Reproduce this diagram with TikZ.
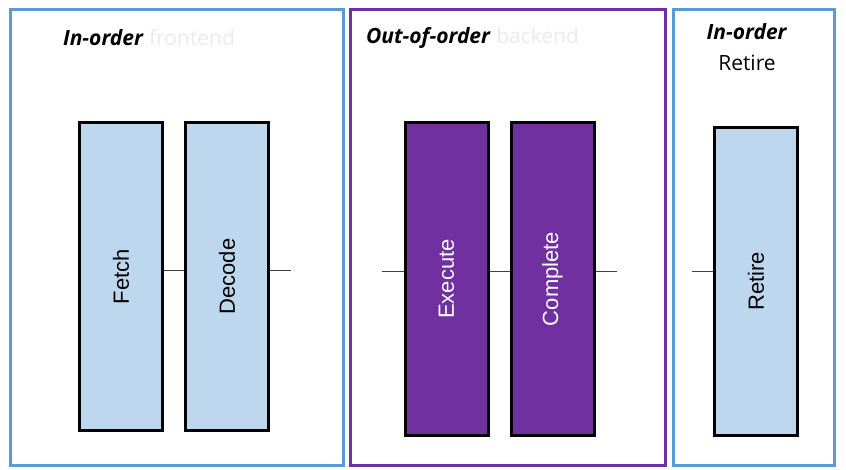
\documentclass[tikz,border=0pt]{standalone}
\usepackage{fontspec}
\setmainfont{Open Sans}
\newfontfamily\stagefont{Liberation Sans}
\definecolor{FrontClr}{HTML}{5B9BD5}
\definecolor{BackClr}{HTML}{7030A0}
\definecolor{StageClr}{HTML}{BDD7EE}
\definecolor{FaintClr}{HTML}{EBEBEB}
\definecolor{WireClr}{HTML}{404040}

\begin{document}
\begin{tikzpicture}[x=1pt,y=-1pt,
  part/.style={draw,line width=3pt,inner sep=0pt},
  stage/.style={draw=black,line width=3pt,inner sep=0pt,minimum width=83pt},
  stagetext/.style={rotate=90,font=\stagefont\fontsize{22}{24}\selectfont},
  wire/.style={draw=WireClr,line width=1pt},
  title/.style={font=\fontsize{21}{24}\selectfont,inner sep=0pt}]
\useasboundingbox (0,0) rectangle (846,470);

\node[part,draw=FrontClr,minimum width=333pt,minimum height=455pt] (front) at (176.5,237.5) {};
\node[part,draw=BackClr,minimum width=315pt,minimum height=455pt] (back) at (507.5,237.5) {};
\node[part,draw=FrontClr,minimum width=161pt,minimum height=455pt] (ret) at (753.5,237.5) {};

\node[title] (tfront) at (149,38) {\textbf{\textit{In-order}} \textcolor{FaintClr}{frontend}};
\node[title] (tback) at (472.5,38) {\textbf{\textit{Out-of-order}} \textcolor{FaintClr}{backend}};
\node[title] (tret) at (747,32) {\textbf{\textit{In-order}}};
\node[title] (tret2) at (747,63) {Retire};

\node[stage,fill=StageClr,minimum height=308pt,
  label={[stagetext]center:Fetch}] (fetch) at (121,276.5) {};
\node[stage,fill=StageClr,minimum height=308pt,
  label={[stagetext]center:Decode}] (decode) at (227,276.5) {};
\node[stage,fill=BackClr,minimum height=313pt,
  label={[stagetext,text=white]center:Execute}] (execute) at (446.5,279) {};
\node[stage,fill=BackClr,minimum height=313pt,
  label={[stagetext,text=white]center:Complete}] (complete) at (552.5,279) {};
\node[stage,fill=StageClr,minimum height=308pt,
  label={[stagetext]center:Retire}] (retire) at (756,281.5) {};

\coordinate (decodeout) at (291,271);
\coordinate (executein) at (382,272);
\coordinate (completeout) at (617,272);
\coordinate (retirein) at (692,272);

\draw[wire] (fetch.east |- 0,271) -- (decode.west |- 0,271);
\draw[wire] (decode.east |- decodeout) -- (decodeout);
\draw[wire] (executein) -- (execute.west |- executein);
\draw[wire] (execute.east |- executein) -- (complete.west |- executein);
\draw[wire] (complete.east |- completeout) -- (completeout);
\draw[wire] (retirein) -- (retire.west |- retirein);

\end{tikzpicture}
\end{document}
